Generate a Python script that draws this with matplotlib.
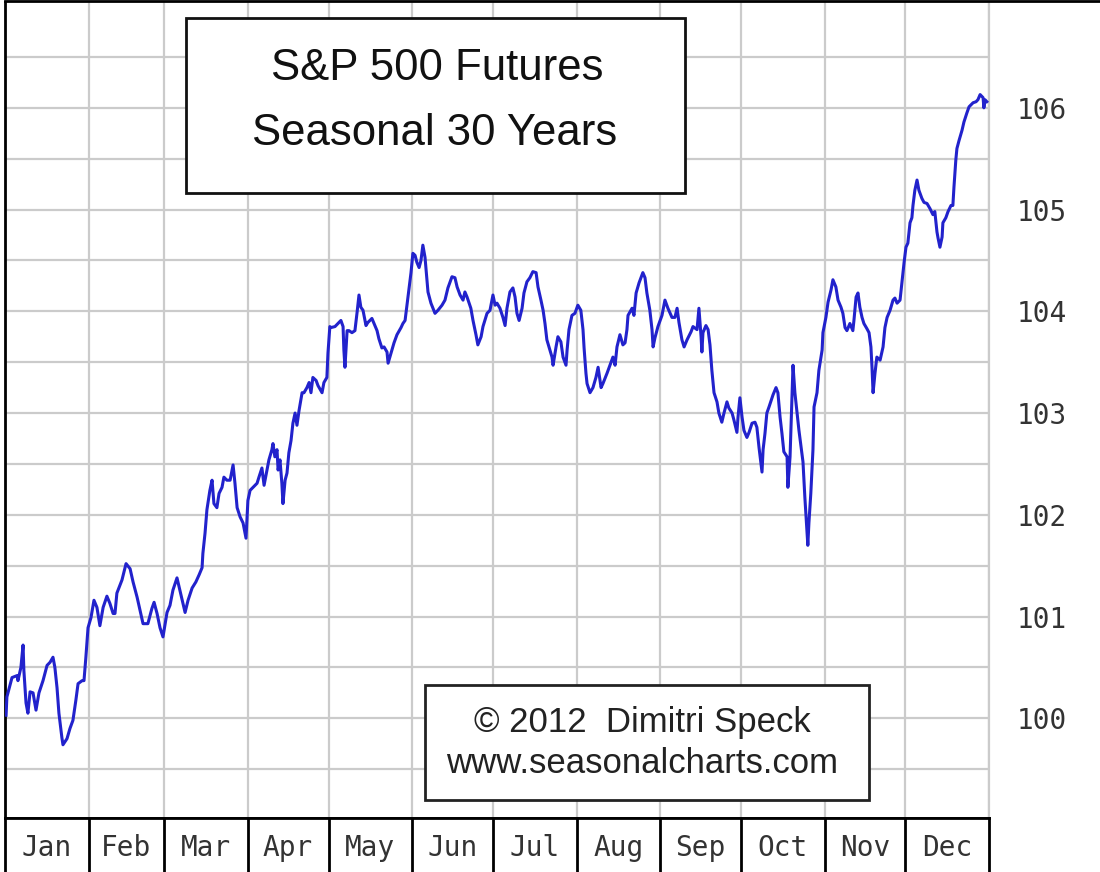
import matplotlib
matplotlib.use("Agg")
import matplotlib.pyplot as plt
from matplotlib.patches import Rectangle
from matplotlib.lines import Line2D

# Seasonal curve: day of year and index value
days = [
    0.4, 0.7, 2.6, 4.5, 4.8, 5.9, 6.7, 7.0, 7.8, 8.5, 9.3, 10.4, 11.5, 12.6, 14.1, 15.6,
    16.7, 17.8, 18.5, 19.3, 20.0, 21.1, 21.5, 23.0, 24.1, 25.2, 26.3, 27.1, 28.6, 29.3,
    30.0, 30.8, 31.9, 33.0, 34.1, 35.2, 36.4, 37.8, 38.9, 40.1, 40.8, 41.5, 43.4, 44.9,
    46.4, 47.5, 49.0, 50.1, 51.2, 53.0, 54.5, 55.3, 56.4, 57.5, 58.6, 60.1, 61.2, 62.3,
    63.8, 65.3, 66.8, 67.9, 69.4, 70.8, 72.0, 73.1, 73.4, 74.2, 74.9, 76.0, 76.8, 77.5,
    78.6, 79.4, 80.5, 81.2, 82.3, 83.5, 84.6, 85.3, 86.1, 87.2, 88.3, 89.4, 90.1, 90.9,
    92.0, 93.5, 94.2, 95.3, 96.1, 97.2, 97.9, 99.0, 99.4, 100.1, 100.9, 101.3, 102.0,
    102.7, 103.1, 103.9, 104.6, 105.3, 106.1, 106.8, 107.6, 108.3, 109.1, 110.2, 110.9,
    112.0, 112.8, 113.5, 114.2, 115.4, 116.1, 117.6, 118.3, 119.4, 119.8, 120.5, 120.9,
    122.4, 123.5, 124.6, 125.4, 125.7, 126.1, 126.9, 127.6, 128.7, 129.8, 130.6, 131.3,
    132.0, 132.8, 133.9, 134.6, 136.1, 136.9, 138.0, 138.7, 139.8, 140.6, 141.7, 142.1,
    143.2, 144.3, 145.4, 146.9, 147.6, 148.4, 149.1, 149.9, 150.6, 151.3, 152.1, 152.8,
    153.6, 154.3, 155.0, 155.8, 156.5, 156.9, 158.0, 159.5, 160.6, 162.1, 163.2, 164.3,
    165.8, 166.9, 167.7, 168.8, 169.9, 170.6, 171.4, 172.8, 173.6, 174.7, 175.4, 176.6,
    177.3, 178.8, 179.9, 181.0, 181.8, 182.5, 183.6, 184.7, 185.5, 186.2, 187.3, 188.4,
    189.2, 189.9, 190.7, 191.8, 192.5, 193.6, 194.7, 195.8, 197.0, 197.7, 198.8, 199.6,
    200.3, 201.0, 201.8, 202.9, 203.3, 204.4, 205.1, 206.2, 207.0, 208.1, 208.5, 209.2,
    210.3, 211.4, 212.5, 213.6, 214.4, 214.8, 215.5, 215.9, 217.0, 218.1, 219.2, 220.0,
    221.1, 221.8, 223.3, 224.4, 225.5, 226.3, 227.0, 228.1, 229.2, 230.0, 230.7, 231.1,
    232.6, 233.3, 234.1, 235.2, 236.6, 237.4, 238.1, 239.2, 240.0, 240.4, 241.1, 242.2,
    243.7, 244.8, 245.9, 247.4, 248.5, 249.3, 250.0, 251.1, 251.9, 253.0, 254.5, 255.2,
    256.7, 257.4, 258.2, 258.5, 258.9, 260.0, 260.8, 261.5, 262.2, 263.0, 264.1, 264.8,
    265.9, 266.7, 267.8, 268.5, 269.7, 270.4, 271.5, 271.9, 272.6, 273.4, 274.1, 275.2,
    276.0, 277.1, 278.2, 278.9, 279.7, 280.8, 281.2, 281.9, 282.6, 283.4, 284.9, 286.0,
    286.7, 287.5, 288.2, 288.9, 290.1, 290.4, 291.2, 291.9, 292.3, 293.0, 293.8, 294.5,
    295.3, 296.0, 296.7, 297.5, 297.8, 298.2, 298.9, 299.7, 300.1, 301.2, 301.9, 303.1,
    303.4, 304.5, 305.3, 306.4, 307.1, 308.2, 309.0, 310.1, 310.8, 311.6, 312.3, 313.4,
    314.5, 314.9, 315.7, 316.4, 317.1, 317.9, 318.6, 319.7, 320.5, 321.2, 321.6, 322.0,
    322.7, 323.4, 324.6, 325.7, 326.4, 327.2, 328.3, 329.4, 330.1, 330.9, 332.0, 332.7,
    333.5, 334.2, 334.9, 335.7, 336.4, 336.8, 337.5, 338.3, 339.0, 340.1, 340.9, 342.0,
    343.1, 344.2, 344.9, 345.7, 346.1, 346.8, 347.6, 347.9, 349.0, 349.8, 350.9, 351.6,
    352.0, 352.7, 353.1, 353.9, 355.0, 355.7, 356.8, 357.6, 359.1, 360.2, 360.9, 361.7,
    362.8, 363.1, 363.5, 364.2,
]
values = [
    100.03, 100.21, 100.40, 100.42, 100.37, 100.50, 100.72, 100.47, 100.15, 100.05, 100.26,
    100.25, 100.08, 100.25, 100.37, 100.52, 100.55, 100.60, 100.50, 100.30, 100.05, 99.81,
    99.74, 99.80, 99.90, 99.98, 100.18, 100.34, 100.37, 100.37, 100.60, 100.89, 100.99,
    101.16, 101.09, 100.91, 101.09, 101.20, 101.13, 101.03, 101.03, 101.23, 101.36, 101.52,
    101.47, 101.34, 101.19, 101.06, 100.93, 100.93, 101.08, 101.14, 101.03, 100.89, 100.80,
    101.04, 101.11, 101.26, 101.38, 101.21, 101.04, 101.16, 101.28, 101.34, 101.41, 101.48,
    101.62, 101.82, 102.05, 102.24, 102.34, 102.11, 102.07, 102.21, 102.27, 102.37, 102.34,
    102.34, 102.49, 102.31, 102.07, 101.98, 101.92, 101.77, 102.14, 102.24, 102.27, 102.31,
    102.37, 102.46, 102.29, 102.44, 102.54, 102.64, 102.70, 102.57, 102.64, 102.44, 102.54,
    102.31, 102.11, 102.34, 102.41, 102.61, 102.73, 102.90, 103.00, 102.88, 103.03, 103.20,
    103.20, 103.25, 103.30, 103.20, 103.35, 103.32, 103.27, 103.20, 103.30, 103.35, 103.59,
    103.85, 103.84, 103.85, 103.88, 103.91, 103.85, 103.62, 103.45, 103.81, 103.81, 103.79,
    103.81, 103.99, 104.16, 104.04, 104.01, 103.86, 103.89, 103.93, 103.88, 103.81, 103.73,
    103.64, 103.65, 103.60, 103.49, 103.59, 103.69, 103.77, 103.84, 103.88, 103.91, 104.06,
    104.23, 104.38, 104.57, 104.55, 104.48, 104.43, 104.50, 104.65, 104.53, 104.31, 104.19,
    104.08, 103.98, 104.01, 104.06, 104.11, 104.23, 104.34, 104.33, 104.24, 104.16, 104.11,
    104.19, 104.14, 104.03, 103.91, 103.77, 103.67, 103.75, 103.85, 103.98, 104.01, 104.16,
    104.06, 104.08, 104.03, 103.94, 103.86, 104.03, 104.19, 104.23, 104.14, 103.98, 103.91,
    104.03, 104.18, 104.29, 104.33, 104.39, 104.38, 104.24, 104.11, 104.01, 103.88, 103.72,
    103.65, 103.55, 103.47, 103.65, 103.75, 103.70, 103.55, 103.47, 103.62, 103.82, 103.96,
    103.98, 104.06, 104.01, 103.82, 103.64, 103.39, 103.29, 103.20, 103.25, 103.35, 103.45,
    103.25, 103.29, 103.39, 103.47, 103.55, 103.47, 103.65, 103.77, 103.67, 103.69, 103.82,
    103.96, 104.03, 103.96, 104.18, 104.28, 104.38, 104.33, 104.18, 104.01, 103.82, 103.65,
    103.74, 103.85, 103.96, 104.11, 104.03, 103.94, 103.94, 104.03, 103.89, 103.72, 103.65,
    103.72, 103.80, 103.85, 103.82, 104.03, 103.75, 103.60, 103.79, 103.86, 103.82, 103.67,
    103.42, 103.20, 103.11, 103.00, 102.91, 103.00, 103.11, 103.05, 103.00, 102.93, 102.81,
    102.96, 103.15, 102.96, 102.83, 102.76, 102.81, 102.90, 102.91, 102.86, 102.66, 102.42,
    102.64, 102.80, 103.00, 103.06, 103.18, 103.25, 103.20, 102.96, 102.80, 102.62, 102.57,
    102.27, 102.57, 103.16, 103.47, 103.20, 103.00, 102.83, 102.66, 102.52, 102.17, 101.82,
    101.70, 101.92, 102.21, 102.64, 103.06, 103.20, 103.42, 103.62, 103.79, 103.94, 104.09,
    104.21, 104.31, 104.24, 104.11, 104.04, 103.98, 103.84, 103.81, 103.88, 103.81, 103.91,
    104.14, 104.18, 104.04, 103.94, 103.88, 103.83, 103.79, 103.65, 103.45, 103.20, 103.39,
    103.55, 103.52, 103.65, 103.84, 103.94, 104.01, 104.11, 104.13, 104.08, 104.11, 104.28,
    104.48, 104.63, 104.67, 104.87, 104.92, 105.04, 105.19, 105.29, 105.19, 105.11, 105.07,
    105.06, 105.01, 104.95, 104.98, 104.78, 104.72, 104.63, 104.73, 104.87, 104.92, 104.98,
    105.04, 105.04, 105.22, 105.49, 105.60, 105.68, 105.78, 105.86, 105.95, 106.01, 106.05,
    106.06, 106.08, 106.13, 106.10, 106.00, 106.08, 106.06,
]

months = ["Jan", "Feb", "Mar", "Apr", "May", "Jun", "Jul", "Aug", "Sep", "Oct", "Nov", "Dec"]
month_starts = [0, 31, 59, 90, 120, 151, 181, 212, 243, 273, 304, 334, 365]
y_labels = [100, 101, 102, 103, 104, 105, 106]
y_grid = [99.5, 100.5, 101.5, 102.5, 103.5, 104.5, 105.5, 106.5]

title_lines = ["S&P 500 Futures", "Seasonal 30 Years"]
credit_lines = ["\u00a9 2012  Dimitri Speck", "www.seasonalcharts.com"]

W, H = 1100, 872
GRID = "#cbcbcb"
PIXEL_FONT = "DejaVu Sans Mono"


def fx(px):
    return px / W


def fy(py):
    # pixel row from the top -> figure fraction from the bottom
    return 1 - py / H


fig = plt.figure(figsize=(W / 100, H / 100), dpi=100)

# Main chart area
ax = fig.add_axes([fx(5), fy(818), fx(984), 816 / H])
ax.set_xlim(0, 365)
ax.set_ylim(99.02, 107.04)
ax.set_xticks(month_starts)
ax.set_xticklabels([])
ax.set_yticks(y_labels)
ax.set_yticks(y_grid, minor=True)
ax.grid(True, which="both", color=GRID, linewidth=1.6)
ax.set_axisbelow(True)
ax.tick_params(which="both", length=0)
ax.tick_params(axis="x", labelbottom=False)
ax.yaxis.tick_right()
ax.tick_params(axis="y", pad=20, labelsize=20, labelcolor="#333333")
for lbl in ax.get_yticklabels():
    lbl.set_fontfamily(PIXEL_FONT)
ax.spines["left"].set_color("black")
ax.spines["left"].set_linewidth(2)
ax.spines["bottom"].set_color("black")
ax.spines["bottom"].set_linewidth(2)
ax.spines["right"].set_color(GRID)
ax.spines["right"].set_linewidth(1.6)
ax.spines["top"].set_visible(False)

ax.plot(days, values, color="#2222cc", linewidth=2.2, zorder=3)

# Month strip under the chart
axm = fig.add_axes([fx(5), 0, fx(984), fy(818)])
axm.set_xlim(0, 365)
axm.set_ylim(0, 1)
axm.set_xticks([])
axm.set_yticks([])
for s in ["left", "top", "right"]:
    axm.spines[s].set_color("black")
    axm.spines[s].set_linewidth(2)
axm.spines["bottom"].set_visible(False)
for b in month_starts[1:-1]:
    axm.axvline(b, color="black", linewidth=2)
for i, m in enumerate(months):
    mid = (month_starts[i] + month_starts[i + 1]) / 2
    axm.text(mid, 0.45, m, ha="center", va="center", fontsize=20,
             family=PIXEL_FONT, color="#333333")

# Top border across the image
fig.add_artist(Line2D([fx(5), 1], [fy(1.5), fy(1.5)], color="black", linewidth=2))

# Title box
fig.add_artist(Rectangle((fx(186), fy(193)), fx(499), 175 / H, facecolor="white",
                         edgecolor="#111111", linewidth=2, zorder=5))
fig.text(fx(437), fy(68), title_lines[0], ha="center", va="center", fontsize=31.5,
         family="Liberation Sans", color="#111111", zorder=6)
fig.text(fx(435), fy(133), title_lines[1], ha="center", va="center", fontsize=31.5,
         family="Liberation Sans", color="#111111", zorder=6)

# Credit box
fig.add_artist(Rectangle((fx(425), fy(800)), fx(444), 115 / H, facecolor="white",
                         edgecolor="#222222", linewidth=2, zorder=5))
fig.text(fx(642), fy(722), credit_lines[0], ha="center", va="center", fontsize=25,
         family="Liberation Sans", color="#222222", zorder=6)
fig.text(fx(642), fy(763), credit_lines[1], ha="center", va="center", fontsize=25,
         family="Liberation Sans", color="#222222", zorder=6)

fig.savefig("out.png", dpi=100, facecolor="white")
